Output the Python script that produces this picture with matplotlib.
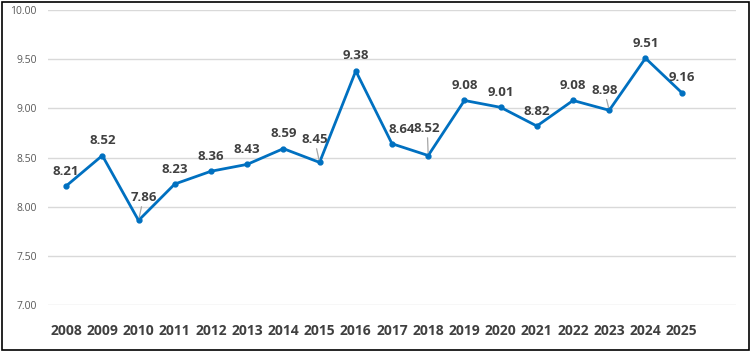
import matplotlib.pyplot as plt
from matplotlib.patches import Rectangle

years = list(range(2008, 2026))
values = [8.21, 8.52, 7.86, 8.23, 8.36, 8.43, 8.59, 8.45, 9.38,
          8.64, 8.52, 9.08, 9.01, 8.82, 9.08, 8.98, 9.51, 9.16]
y_ticks = [7.00, 7.50, 8.00, 8.50, 9.00, 9.50, 10.00]

# label offsets in pixels (dx, dy); leader line where the label sits farther away
offsets = {2010: (5, -23), 2015: (-5, -23), 2017: (10, -14),
           2018: (-1, -27), 2023: (-5, -20)}
leaders = {2010, 2015, 2018, 2023}

W, H = 753, 353
fig = plt.figure(figsize=(W / 100, H / 100), dpi=100)
ax = fig.add_axes([48 / W, (H - 305) / H, (736 - 48) / W, (305 - 10) / H])

blue = '#0070C0'
ax.plot(years, values, color=blue, lw=2, marker='o', ms=3.5, zorder=3)

ax.set_ylim(7, 10)
ax.set_xlim(2007.5, 2026.5)
ax.set_yticks(y_ticks)
ax.set_yticklabels([f'{v:.2f}' for v in y_ticks], fontsize=7.5,
                   color='#595959', family='Open Sans')
ax.set_xticks(years)
ax.set_xticklabels([str(y) for y in years], fontsize=10, fontweight='bold',
                   color='#404040', family='Open Sans')
ax.tick_params(length=0, pad=8)
ax.tick_params(axis='x', pad=14)
ax.grid(axis='y', color='#D9D9D9', lw=1)
ax.set_axisbelow(True)
for s in ax.spines.values():
    s.set_visible(False)

for yr, v in zip(years, values):
    dx, dy = offsets.get(yr, (0, -15))
    ap = None
    if yr in leaders:
        ap = dict(arrowstyle='-', color='#A6A6A6', lw=0.9, shrinkA=0, shrinkB=2)
    ax.annotate(f'{v:.2f}', (yr, v), xytext=(dx, -dy), textcoords='offset pixels',
                ha='center', va='center', fontsize=9.5, fontweight='bold',
                color='#404040', family='Open Sans', arrowprops=ap)

fig.patches.append(Rectangle((2 / W, 3 / H), 747 / W, 348 / H,
                             transform=fig.transFigure, fill=False,
                             edgecolor='black', lw=1.2))

fig.savefig('out.png', dpi=100)
